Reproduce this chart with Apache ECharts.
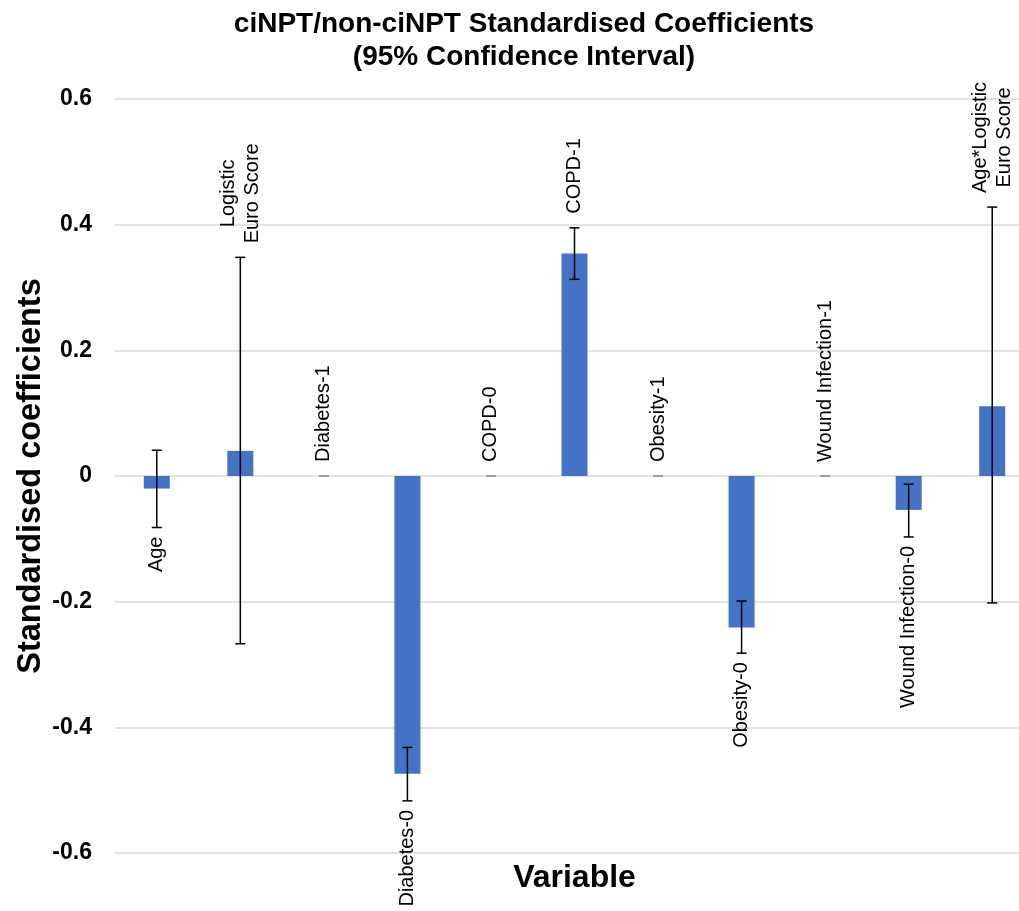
<!DOCTYPE html>
<html>
<head>
<meta charset="utf-8">
<script src="https://cdn.jsdelivr.net/npm/echarts@6/dist/echarts.min.js"></script>
<style>
  html, body { margin: 0; padding: 0; background: #fff; overflow: hidden; }
  /* the plot area runs a little past the right edge of the window, as in the reference */
  #chart { width: 1035px; height: 911px; }
</style>
</head>
<body>
<div id="chart"></div>
<script>
// values
const categories = ['Age', 'Logistic\nEuro Score', 'Diabetes-1', 'Diabetes-0', 'COPD-0', 'COPD-1',
  'Obesity-1', 'Obesity-0', 'Wound Infection-1', 'Wound Infection-0', 'Age*Logistic\nEuro Score'];
const coefficients = [-0.02, 0.04, 0, -0.474, 0, 0.354, 0, -0.241, 0, -0.054, 0.111];
const ciLower = [-0.082, -0.267, 0, -0.517, 0, 0.313, 0, -0.282, 0, -0.097, -0.202];
const ciUpper = [0.041, 0.348, 0, -0.432, 0, 0.395, 0, -0.199, 0, -0.013, 0.428];

const FONT = '"Liberation Sans", Arial, sans-serif';
const labelFont = '20px ' + FONT;

// measure label lines so multi-line labels can be centred as a block
const measureCtx = document.createElement('canvas').getContext('2d');
measureCtx.font = labelFont;
function textW(s) { return measureCtx.measureText(s).width; }

function renderErrorBar(params, api) {
  const i = api.value(0);
  const lo = api.value(1);
  const hi = api.value(2);
  const val = api.value(3);
  const pHi = api.coord([i, hi]);
  const pLo = api.coord([i, lo]);
  const x = pHi[0];
  const capW = 5;
  const zero = lo === 0 && hi === 0;
  const stroke = { stroke: zero ? '#9a9a9a' : '#000', lineWidth: 1.5 };
  const children = [
    { type: 'line', shape: { x1: x, y1: pHi[1], x2: x, y2: pLo[1] }, style: stroke },
    { type: 'line', shape: { x1: x - capW, y1: pHi[1], x2: x + capW, y2: pHi[1] }, style: stroke },
    { type: 'line', shape: { x1: x - capW, y1: pLo[1], x2: x + capW, y2: pLo[1] }, style: stroke }
  ];

  const lines = categories[params.dataIndex].split('\n');
  const blockW = Math.max.apply(null, lines.map(textW));
  const lineH = 24;
  let cy;
  if (val >= 0) {
    cy = pHi[1] - 14 - blockW / 2;
  } else {
    cy = pLo[1] + 9 + blockW / 2;
  }
  lines.forEach(function (ln, k) {
    children.push({
      type: 'text',
      x: x + (k - (lines.length - 1) / 2) * lineH,
      y: cy,
      rotation: Math.PI / 2,
      style: {
        text: ln,
        font: labelFont,
        fill: '#000',
        align: 'center',
        verticalAlign: 'middle'
      }
    });
  });
  return { type: 'group', children: children };
}

const chart = echarts.init(document.getElementById('chart'), null, { renderer: 'canvas' });

const option = {
  animation: false,
  backgroundColor: '#fff',
  title: {
    text: 'ciNPT/non-ciNPT Standardised Coefficients\n(95% Confidence Interval)',
    left: 519,
    top: 3,
    textAlign: 'center',
    textStyle: {
      fontFamily: FONT,
      fontWeight: 'bold',
      fontSize: 28,
      lineHeight: 33,
      color: '#000'
    }
  },
  grid: {
    left: 115,
    top: 99,
    width: 919,
    height: 754
  },
  xAxis: {
    type: 'category',
    data: categories,
    name: 'Variable',
    nameLocation: 'middle',
    nameGap: 9,
    nameTextStyle: { fontFamily: FONT, fontWeight: 'bold', fontSize: 32, color: '#000' },
    axisLine: { show: false, onZero: false },
    axisTick: { show: false },
    axisLabel: { show: false },
    splitLine: { show: false }
  },
  yAxis: {
    type: 'value',
    min: -0.6,
    max: 0.6,
    interval: 0.2,
    name: 'Standardised coefficients',
    nameLocation: 'middle',
    nameGap: 67,
    nameMoveOverlap: false,
    nameTextStyle: { fontFamily: FONT, fontWeight: 'bold', fontSize: 32.5, color: '#000' },
    axisLine: { show: false },
    axisTick: { show: false },
    axisLabel: {
      margin: 23,
      fontFamily: FONT,
      fontWeight: 'bold',
      fontSize: 23,
      color: '#000',
      formatter: function (v) { return Math.abs(v) < 1e-9 ? '0' : v.toFixed(1); }
    },
    splitLine: { lineStyle: { color: '#d9d9d9', width: 1.5 } }
  },
  series: [
    {
      type: 'bar',
      data: coefficients,
      barWidth: 26,
      itemStyle: { color: '#4472c4' }
    },
    {
      type: 'custom',
      renderItem: renderErrorBar,
      data: categories.map(function (c, i) { return [i, ciLower[i], ciUpper[i], coefficients[i]]; }),
      z: 5
    }
  ]
};

chart.setOption(option);
</script>
</body>
</html>
